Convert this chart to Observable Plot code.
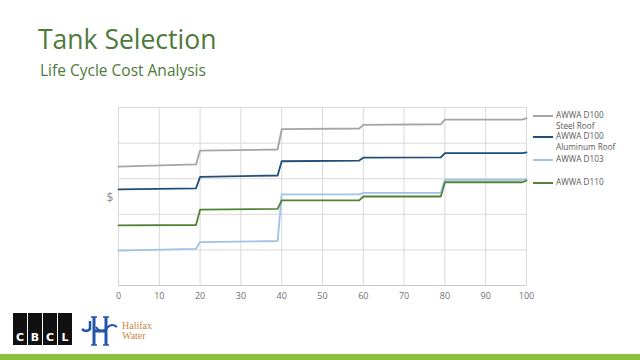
<!DOCTYPE html>
<html>
<head>
<meta charset="utf-8">
<script src="https://cdn.jsdelivr.net/npm/d3@7"></script>
<script src="https://cdn.jsdelivr.net/npm/@observablehq/plot@0.6"></script>
<style>
  html, body { margin: 0; padding: 0; background: #fff; }
  #wrap { position: relative; width: 640px; height: 360px; overflow: hidden; font-family: "Open Sans", sans-serif; }
  #chart { position: absolute; left: 0; top: 0; }
  .title { position: absolute; left: 38px; top: 21px; font-size: 26.5px; color: #4e7a3c; white-space: nowrap; }
  .subtitle { position: absolute; left: 40px; top: 59px; font-size: 15.5px; color: #4e7a3c; white-space: nowrap; }
  .legend { position: absolute; left: 533px; top: 110px; font-size: 8.2px; color: #595959; line-height: 10.5px; }
  .leg { position: absolute; left: 0; white-space: nowrap; }
  .leg .sw { position: absolute; left: 0; top: 5px; width: 20px; height: 2px; }
  .leg .tx { position: absolute; left: 23px; top: 0; }
  .bar { position: absolute; left: 0; top: 354px; width: 640px; height: 6px; background: #8dbf3c; }
  .cbcl { position: absolute; left: 13px; top: 313px; }
  .cbcl div { position: absolute; top: 0; width: 14px; height: 32px; background: #111; color: #fff; font: bold 11px "DejaVu Sans", sans-serif; text-align: center; line-height: 12px; }
  .cbcl span { position: absolute; bottom: 1px; left: 0; width: 14px; }
  .hw { position: absolute; left: 122px; top: 321px; font-family: "Liberation Serif", serif; font-size: 10px; color: #c8874a; line-height: 10px; }
</style>
</head>
<body>
<div id="wrap">
  <div id="chart"></div>
  <div class="title">Tank Selection</div>
  <div class="subtitle">Life Cycle Cost Analysis</div>
  <div class="legend" id="legend"></div>
  <div class="cbcl">
    <div style="left:0"><span>C</span></div>
    <div style="left:15px"><span>B</span></div>
    <div style="left:30px"><span>C</span></div>
    <div style="left:45px"><span>L</span></div>
  </div>
  <svg style="position:absolute;left:80px;top:315px" width="40" height="32" viewBox="0 0 40 32">
    <path d="M2 14 Q6 18 10 14 L10 6" stroke="#2356a8" stroke-width="2.5" fill="none"/>
    <path d="M14 2 L14 30 M26 2 L26 30 M14 16 L26 16" stroke="#2356a8" stroke-width="3" fill="none"/>
    <path d="M16 12 Q21 20 28 12 Q32 8 37 12" stroke="#2356a8" stroke-width="2" fill="none"/>
    <path d="M11 2 L17 2 M23 2 L29 2 M11 30 L17 30 M23 30 L29 30" stroke="#2356a8" stroke-width="1.5" fill="none"/>
  </svg>
  <div class="hw">Halifax<br>Water</div>
  <div class="bar"></div>
</div>
<script>
const years = [0, 19, 20, 39, 40, 59, 60, 79, 80, 99, 100];
const steelRoof    = [3.34, 3.40, 3.79, 3.82, 4.39, 4.41, 4.51, 4.53, 4.66, 4.66, 4.70];
const aluminumRoof = [2.70, 2.73, 3.05, 3.09, 3.49, 3.51, 3.59, 3.60, 3.72, 3.72, 3.74];
const d103         = [0.98, 1.03, 1.22, 1.25, 2.56, 2.56, 2.60, 2.60, 2.97, 2.97, 2.99];
const d110         = [1.69, 1.70, 2.13, 2.15, 2.39, 2.39, 2.50, 2.50, 2.90, 2.90, 2.95];
const seriesNames = ["AWWA D100 Steel Roof", "AWWA D100 Aluminum Roof", "AWWA D103", "AWWA D110"];
const seriesColors = ["#a5a5a5", "#1f4e79", "#9dc3e6", "#548235"];
const xTicks = [0, 10, 20, 30, 40, 50, 60, 70, 80, 90, 100];
const yGrid = [0, 1, 2, 3, 4, 5];

const seriesValues = [steelRoof, aluminumRoof, d103, d110];
const rows = [];
seriesValues.forEach((vals, i) => vals.forEach((v, j) => rows.push({year: years[j], value: v, series: seriesNames[i]})));

const plot = Plot.plot({
  width: 640,
  height: 360,
  marginLeft: 118,
  marginRight: 114,
  marginTop: 107,
  marginBottom: 75,
  style: {fontFamily: "Open Sans, sans-serif", fontSize: "9px", color: "#6f6f6f", background: "transparent"},
  x: {domain: [0, 100], ticks: xTicks, tickSize: 0, tickPadding: 7, label: null},
  y: {domain: [0, 5], ticks: yGrid, axis: null, label: null},
  color: {domain: seriesNames, range: seriesColors},
  marks: [
    Plot.ruleY(yGrid, {stroke: "#d9d9d9", strokeWidth: 1}),
    Plot.ruleX(xTicks, {stroke: "#d9d9d9", strokeWidth: 1}),
    Plot.ruleY([0], {stroke: "#c8c8c8", strokeWidth: 1}),
    Plot.line(rows, {x: "year", y: "value", z: "series", stroke: "series", strokeWidth: 1.8}),
    Plot.text(["$"], {frameAnchor: "left", dx: -12, dy: 2, fontSize: 12, fill: "#8a8a8a", text: d => d})
  ]
});
document.getElementById("chart").appendChild(plot);

const legendItems = [
  {lines: ["AWWA D100", "Steel Roof"], top: 0},
  {lines: ["AWWA D100", "Aluminum Roof"], top: 21},
  {lines: ["AWWA D103"], top: 44},
  {lines: ["AWWA D110"], top: 67}
];
const leg = document.getElementById("legend");
legendItems.forEach((it, i) => {
  const d = document.createElement("div");
  d.className = "leg";
  d.style.top = it.top + "px";
  d.innerHTML = `<div class="sw" style="background:${seriesColors[i]}"></div><div class="tx">${it.lines.join("<br>")}</div>`;
  leg.appendChild(d);
});
</script>
</body>
</html>
